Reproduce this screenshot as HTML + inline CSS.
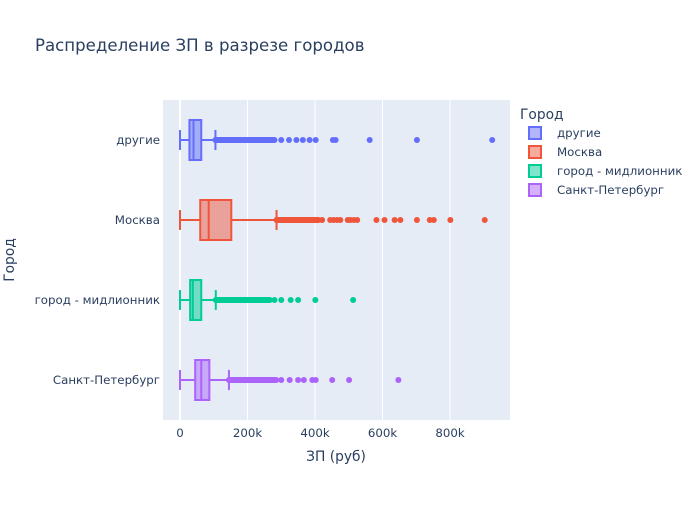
<!DOCTYPE html>
<html><head><meta charset="utf-8">
<style>
body{margin:0;background:#fff;}
svg{font-family:"DejaVu Sans","Liberation Sans",sans-serif;}
</style></head>
<body>
<svg id="chart" width="700" height="500" xmlns="http://www.w3.org/2000/svg">
<rect width="700" height="500" fill="#fff"/>
<text x="35" y="51" font-size="16.6" fill="#2a3f5f">Распределение ЗП в разрезе городов</text>
<rect x="163" y="100" width="347" height="320" fill="#e5ecf6"/>
<g id="grid"></g>
<g id="marks"></g>
<g id="axes"></g>
<text x="336" y="461" font-size="13.8" fill="#2a3f5f" text-anchor="middle">ЗП (руб)</text>
<text transform="translate(14,260) rotate(-90)" font-size="13.8" fill="#2a3f5f" text-anchor="middle">Город</text>
<text x="520" y="119" font-size="13.8" fill="#2a3f5f">Город</text>
<g id="legend"></g>
</svg>
<script>
const categories=["другие","Москва","город - мидлионник","Санкт-Петербург"];
const colors=["#636efa","#ef553b","#00cc96","#ab63fa"];
const fills=["rgba(99,110,250,0.5)","rgba(239,85,59,0.5)","rgba(0,204,150,0.5)","rgba(171,99,250,0.5)"];
const mins=[0,0,0,0];
const q1s=[28,60,30,45];
const medians=[40,85,38,63];
const q3s=[63,152,63,87];
const upperFences=[105,286,106,145];
const denseOutlierRanges=[[105,280],[286,410],[106,266],[145,285]];
const outliers=[
 [300,323,345,364,384,402,453,461,562,702,925],
 [421,445,455,465,475,497,505,515,525,582,606,636,653,702,740,752,801,903],
 [280,300,328,350,401,513],
 [300,325,350,367,392,402,451,501,647]
];
const xTicks=[0,200,400,600,800];
const xTickLabels=["0","200k","400k","600k","800k"];

const NS="http://www.w3.org/2000/svg";
const X=v=>180+v*0.3375;
const Y=i=>140+i*80;
function mk(tag,attrs,parent){const e=document.createElementNS(NS,tag);for(const k in attrs)e.setAttribute(k,attrs[k]);parent.appendChild(e);return e;}
const grid=document.getElementById('grid'),marks=document.getElementById('marks'),axes=document.getElementById('axes'),legend=document.getElementById('legend');
xTicks.forEach((t,i)=>{
 const l=mk('line',{x1:X(t),x2:X(t),y1:100,y2:420,stroke:'#fff','stroke-width':t===0?2:1},grid);
 
 
 const tx=mk('text',{x:X(t),y:437,'font-size':11.8,fill:'#2a3f5f','text-anchor':'middle'},axes);
 tx.textContent=xTickLabels[i];
 
 
});
categories.forEach((c,i)=>{
 const y=Y(i),col=colors[i];
 const g=mk('g',{},marks);
 
 
 mk('line',{x1:X(mins[i]),x2:X(q1s[i]),y1:y,y2:y,stroke:col,'stroke-width':2},g);
 mk('line',{x1:X(q3s[i]),x2:X(upperFences[i]),y1:y,y2:y,stroke:col,'stroke-width':2},g);
 mk('line',{x1:X(mins[i]),x2:X(mins[i]),y1:y-10,y2:y+10,stroke:col,'stroke-width':2},g);
 mk('line',{x1:X(upperFences[i]),x2:X(upperFences[i]),y1:y-10,y2:y+10,stroke:col,'stroke-width':2},g);
 mk('rect',{x:X(q1s[i]),y:y-20,width:X(q3s[i])-X(q1s[i]),height:40,fill:fills[i],stroke:col,'stroke-width':2},g);
 mk('line',{x1:X(medians[i]),x2:X(medians[i]),y1:y-20,y2:y+20,stroke:col,'stroke-width':2},g);
 const r=denseOutlierRanges[i];
 const d=mk('rect',{x:X(r[0])-3,y:y-3,width:X(r[1])-X(r[0])+6,height:6,rx:3,fill:col},g);
 
 
 outliers[i].forEach(v=>{
  const p=mk('circle',{cx:X(v),cy:y,r:3,fill:col},g);
  
  
 });
 const t=mk('text',{x:160,y:y+4,'font-size':11.8,fill:'#2a3f5f','text-anchor':'end'},axes);
 t.textContent=c;
 
 
 const ly=133+i*19;
 const le=mk('g',{},legend);
 
 
 mk('rect',{x:529,y:ly-6,width:12,height:12,fill:fills[i],stroke:col,'stroke-width':2},le);
 const lt=mk('text',{x:557,y:ly+4,'font-size':11.8,fill:'#2a3f5f'},le);
 lt.textContent=c;
});
</script>
</body></html>
